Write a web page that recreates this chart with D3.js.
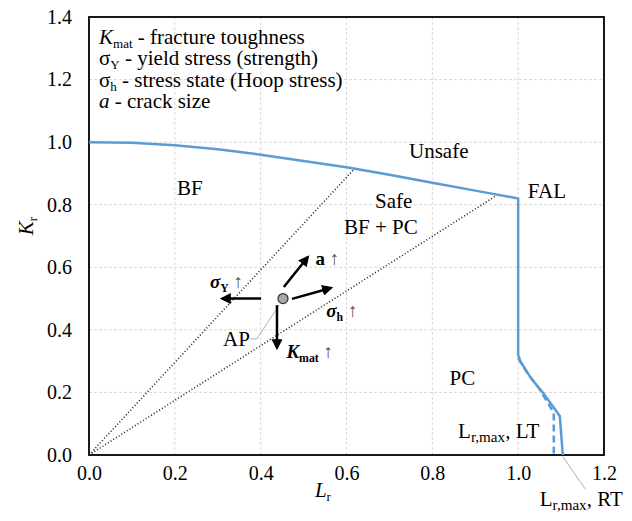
<!DOCTYPE html>
<html>
<head>
<meta charset="utf-8">
<script src="https://cdn.jsdelivr.net/npm/d3@7"></script>
<style>
  html, body { margin: 0; padding: 0; background: #fff; }
  svg text { font-family: "Liberation Serif", "Times New Roman", Times, serif; fill: #000; }
</style>
</head>
<body>
<svg id="chart" width="632" height="521"></svg>
<script>
// FAL curve (solid)
const falL = [0, 0.1, 0.2, 0.3, 0.4, 0.5, 0.6, 0.7, 0.8, 0.9, 1.0, 1.0, 1.005, 1.03, 1.06, 1.097, 1.104];
const falK = [1.0, 0.998, 0.99, 0.977, 0.96, 0.94, 0.92, 0.896, 0.87, 0.845, 0.82, 0.32, 0.30, 0.245, 0.195, 0.125, 0.0];
// low temperature cut-off (dashed)
const ltL = [1.0, 1.02, 1.05, 1.083, 1.083];
const ltK = [0.31, 0.265, 0.21, 0.135, 0.0];
// load lines from origin (dotted)
const loadLineEnds = [[0.62, 0.917], [0.95, 0.83]];
// assessment point and sensitivity arrows
const ap = [0.452, 0.50];
const arrows = [
  { name: 'sy',   from: [0.401, 0.50],  to: [0.310, 0.50] },
  { name: 'a',    from: [0.454, 0.537], to: [0.510, 0.633] },
  { name: 'sh',   from: [0.473, 0.499], to: [0.564, 0.534] },
  { name: 'kmat', from: [0.438, 0.479], to: [0.438, 0.342] }
];
const apLeader = [[0.443, 0.479], [0.391, 0.371], [0.376, 0.371]];
const rtLeader = [[1.104, -0.005], [1.157, -0.11]];
const xTicks = [0, 0.2, 0.4, 0.6, 0.8, 1.0, 1.2];
const yTicks = [0, 0.2, 0.4, 0.6, 0.8, 1.0, 1.2, 1.4];
const regionLabels = [
  { t: 'BF', x: 0.235, y: 0.83 },
  { t: 'Unsafe', x: 0.815, y: 0.95 },
  { t: 'Safe', x: 0.71, y: 0.79 },
  { t: 'BF + PC', x: 0.68, y: 0.705 },
  { t: 'FAL', x: 1.067, y: 0.82 },
  { t: 'PC', x: 0.87, y: 0.225 }
];

const svg = d3.select('#chart');
const MARGIN = { top: 17, right: 28, bottom: 66, left: 89 };
const W = 632 - MARGIN.left - MARGIN.right;
const H = 521 - MARGIN.top - MARGIN.bottom;
const BLUE = '#5b9bd5';
const SERIF = '"Liberation Serif", "Times New Roman", Times, serif';
const UP = '\u2191';

const x = d3.scaleLinear().domain([0, 1.2]).range([0, W]);
const y = d3.scaleLinear().domain([0, 1.4]).range([H, 0]);

const defs = svg.append('defs');
defs.append('marker')
  .attr('id', 'arrowhead')
  .attr('viewBox', '0 0 10 10')
  .attr('refX', 8).attr('refY', 5)
  .attr('markerWidth', 4.4).attr('markerHeight', 4.4)
  .attr('orient', 'auto')
  .append('path').attr('d', 'M0,0 L10,5 L0,10 Z').attr('fill', '#000');

const g = svg.append('g').attr('transform', `translate(${MARGIN.left},${MARGIN.top})`);

// grid
g.append('g').selectAll('line').data(xTicks.slice(1, -1)).join('line')
  .attr('x1', d => x(d)).attr('x2', d => x(d)).attr('y1', 0).attr('y2', H)
  .attr('stroke', '#d9d9d9').attr('stroke-width', 1).attr('stroke-dasharray', '3,2');
g.append('g').selectAll('line').data(yTicks.slice(1, -1)).join('line')
  .attr('x1', 0).attr('x2', W).attr('y1', d => y(d)).attr('y2', d => y(d))
  .attr('stroke', '#d9d9d9').attr('stroke-width', 1).attr('stroke-dasharray', '3,2');

// axes
const xAxis = g.append('g').attr('transform', `translate(0,${H})`)
  .call(d3.axisBottom(x).tickValues(xTicks).tickFormat(d3.format('.1f')).tickSize(0).tickPadding(11));
const yAxis = g.append('g')
  .call(d3.axisLeft(y).tickValues(yTicks).tickFormat(d3.format('.1f')).tickSize(0).tickPadding(17));
[xAxis, yAxis].forEach(a => {
  a.attr('font-family', null).attr('font-size', null);
  a.select('.domain').remove();
  a.selectAll('text').style('font-size', '20px').style('font-family', SERIF).attr('fill', '#000');
});

// frame
g.append('rect').attr('width', W).attr('height', H)
  .attr('fill', 'none').attr('stroke', '#000').attr('stroke-width', 1.8);

// axis titles
const xt = svg.append('text').attr('x', MARGIN.left + x(0.545)).attr('y', 497)
  .attr('text-anchor', 'middle').style('font-size', '21px');
xt.append('tspan').style('font-style', 'italic').text('L');
xt.append('tspan').attr('dy', 4).style('font-size', '13px').text('r');

const yt = svg.append('text')
  .attr('transform', 'translate(33,226) rotate(-90)')
  .attr('text-anchor', 'middle').style('font-size', '21px');
yt.append('tspan').style('font-style', 'italic').text('K');
yt.append('tspan').attr('dy', 4).style('font-size', '13px').text('r');

// load lines
g.append('g').selectAll('line').data(loadLineEnds).join('line')
  .attr('x1', x(0)).attr('y1', y(0))
  .attr('x2', d => x(d[0])).attr('y2', d => y(d[1]))
  .attr('stroke', '#222').attr('stroke-width', 1.6).attr('stroke-dasharray', '1,2.2');

// FAL curves
const line = d3.line().x(d => x(d[0])).y(d => y(d[1]));
g.append('path').datum(ltL.map((d, i) => [d, ltK[i]]))
  .attr('d', line).attr('fill', 'none').attr('stroke', BLUE)
  .attr('stroke-width', 2.5).attr('stroke-dasharray', '7,4');
g.append('path').datum(falL.map((d, i) => [d, falK[i]]))
  .attr('d', line).attr('fill', 'none').attr('stroke', BLUE)
  .attr('stroke-width', 2.5).attr('stroke-linejoin', 'miter');

// leaders
g.append('path').datum(apLeader).attr('d', line)
  .attr('fill', 'none').attr('stroke', '#b0b0b0').attr('stroke-width', 1);
g.append('path').datum(rtLeader).attr('d', line)
  .attr('fill', 'none').attr('stroke', '#b0b0b0').attr('stroke-width', 1);

// arrows
g.append('g').selectAll('line').data(arrows).join('line')
  .attr('x1', d => x(d.from[0])).attr('y1', d => y(d.from[1]))
  .attr('x2', d => x(d.to[0])).attr('y2', d => y(d.to[1]))
  .attr('stroke', '#000').attr('stroke-width', 2.5)
  .attr('marker-end', 'url(#arrowhead)');

// assessment point
g.append('circle').attr('cx', x(ap[0])).attr('cy', y(ap[1])).attr('r', 5)
  .attr('fill', '#a6a6a6').attr('stroke', '#333').attr('stroke-width', 1.2);

// region labels
g.append('g').selectAll('text').data(regionLabels).join('text')
  .attr('x', d => x(d.x)).attr('y', d => y(d.y))
  .attr('text-anchor', 'middle').style('font-size', '21px')
  .text(d => d.t);

// helper for text with subscript
function subText(px, py, parts, size, anchor, subRatio) {
  const t = g.append('text').attr('x', px).attr('y', py)
    .attr('text-anchor', anchor || 'start').style('font-size', size + 'px');
  parts.forEach(p => {
    const s = t.append('tspan').text(p.t);
    if (p.i) s.style('font-style', 'italic');
    if (p.b) s.style('font-weight', 'bold');
    if (p.sub) s.attr('dy', 4).style('font-size', (size * (subRatio || 0.62)) + 'px');
    if (p.up) s.attr('dy', -4);
    if (p.arrow) s.attr('fill', '#555');
  });
  return t;
}

// arrow labels
subText(x(0.282), y(0.535), [{ t: 'σ', i: true, b: true }, { t: 'Y', b: true, sub: true }, { t: ' ' + UP, up: true, arrow: true }], 19);
subText(x(0.528), y(0.608), [{ t: 'a', b: true }, { t: ' ' + UP, arrow: true }], 19);
subText(x(0.553), y(0.44), [{ t: 'σ', i: true, b: true }, { t: 'h', b: true, sub: true }, { t: ' ' + UP, up: true, arrow: true }], 19);
subText(x(0.46), y(0.31), [{ t: 'K', i: true, b: true }, { t: 'mat', b: true, sub: true }, { t: ' ' + UP, up: true, arrow: true }], 19);
subText(x(0.375), y(0.35), [{ t: 'AP' }], 21, 'end');

// L_r,max labels
subText(x(0.86), y(0.055), [{ t: 'L' }, { t: 'r,max', sub: true }, { t: ', LT', up: true }], 21, 'start', 0.72);
subText(x(1.05), 506 - MARGIN.top, [{ t: 'L' }, { t: 'r,max', sub: true }, { t: ', RT', up: true }], 21, 'start', 0.72);

// legend text
const legend = [
  [{ t: 'K', i: true }, { t: 'mat', sub: true }, { t: ' - fracture toughness', up: true }],
  [{ t: 'σ' }, { t: 'Y', sub: true }, { t: ' - yield stress (strength)', up: true }],
  [{ t: 'σ' }, { t: 'h', sub: true }, { t: ' - stress state (Hoop stress)', up: true }],
  [{ t: 'a', i: true }, { t: ' - crack size' }]
];
legend.forEach((parts, i) => subText(10, 27 + i * 21.3, parts, 21));
</script>
</body>
</html>
